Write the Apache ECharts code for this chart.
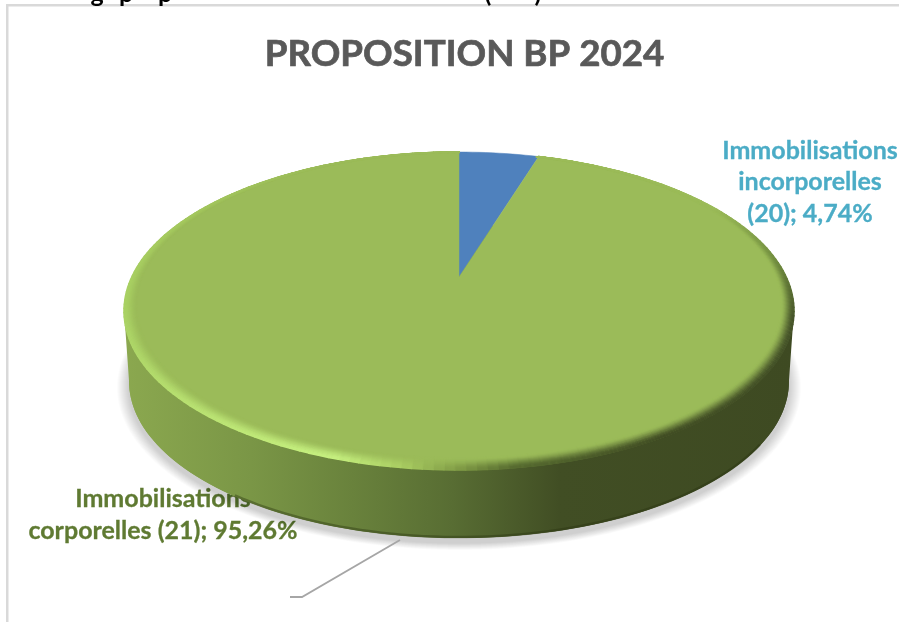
<!DOCTYPE html>
<html>
<head>
<meta charset="utf-8">
<style>
  html, body { margin: 0; padding: 0; background: #fff; }
  #chart { width: 899px; height: 622px; }
</style>
<script src="https://cdn.jsdelivr.net/npm/echarts@6/dist/echarts.min.js"></script>
</head>
<body>
<div id="chart"></div>
<script>
// Budget split shown on the disc
const chartTitle = 'PROPOSITION BP 2024';
const sliceNames = ['Immobilisations\nincorporelles\n(20)', 'Immobilisations\ncorporelles (21)'];
const sliceShares = [4.74, 95.26];
const sliceColors = ['#4F81BD', '#9BBB59'];
const labelColors = ['#4BACC6', '#5F7A32'];
const labelCentres = [[810, 182], [163, 515]];

// Glyphs of the heading line running off the top of the page
const headingGlyphs = ['g', 'p', 'p', '(', ')'];
const headingGlyphX = [97, 126, 165, 488, 538];

// Perspective disc: angle 0 points away from the viewer, angles grow clockwise
const disc = { cx: 459, cy: 277, a: 327.2, b: 151.7, p: 0.2138 };
const plinth = { drop: 71, scale: 0.985 };
const sideAngle = Math.acos(-disc.p) * 180 / Math.PI;

function project(deg, r, drop, scale) {
  const t = deg * Math.PI / 180;
  const w = 1 + disc.p * Math.cos(t) * r;
  const s = scale === undefined ? 1 : scale;
  return [
    disc.cx + s * disc.a * r * Math.sin(t) / w,
    disc.cy + (drop || 0) - s * disc.b * r * Math.cos(t) / w
  ];
}

function arc(from, to, r, drop, scale) {
  const pts = [];
  const n = Math.max(2, Math.ceil(Math.abs(to - from) / 1.5));
  for (let i = 0; i <= n; i++) {
    pts.push(project(from + (to - from) * i / n, r, drop, scale));
  }
  return pts;
}

// Cumulative angles of each slice
let running = 0;
const sliceAngles = sliceShares.map(function (v) {
  const start = running * 3.6;
  running += v;
  return [start, running * 3.6];
});

// Edge colour of the rounded rim, going round the disc
const rimStops = [
  [0, '#9BBB59'], [60, '#9BBB59'], [85, '#6F8A3E'], [105, '#46542A'], [150, '#414D24'],
  [172, '#55692F'], [180, '#7F9A45'], [188, '#AACE62'], [198, '#C6F080'], [212, '#BFE878'],
  [245, '#AED668'], [262, '#A9D163'], [290, '#A5C95F'], [330, '#9BBB59'], [360, '#9BBB59']
];

function rgb(hex) {
  return [1, 3, 5].map(function (i) { return parseInt(hex.substr(i, 2), 16); });
}
function mix(c1, c2, t) {
  return 'rgb(' + c1.map(function (v, i) { return Math.round(v + (c2[i] - v) * t); }).join(',') + ')';
}
function rimColour(deg) {
  for (let i = 1; i < rimStops.length; i++) {
    if (deg <= rimStops[i][0]) {
      const t = (deg - rimStops[i - 1][0]) / (rimStops[i][0] - rimStops[i - 1][0]);
      const a = rgb(rimStops[i - 1][1]), b = rgb(rimStops[i][1]);
      return a.map(function (v, k) { return v + (b[k] - v) * t; });
    }
  }
  return rgb(rimStops[0][1]);
}

function renderPlinth() {
  const base = arc(0, 360, 1, plinth.drop, plinth.scale);
  const band = arc(sideAngle, 360 - sideAngle, 1)
    .concat(arc(360 - sideAngle, sideAngle, 1, plinth.drop, plinth.scale));
  const sideFill = {
    type: 'linear', x: 124, y: 0, x2: 794, y2: 0, global: true,
    colorStops: [
      { offset: 0, color: '#8BA84F' }, { offset: 0.19, color: '#7A9646' },
      { offset: 0.34, color: '#69823C' }, { offset: 0.49, color: '#586D33' },
      { offset: 0.65, color: '#414E24' }, { offset: 1, color: '#3E4A22' }
    ]
  };
  const children = [];
  // Soft cast shadow built from widening translucent discs
  for (let i = 12; i >= 1; i--) {
    children.push({
      type: 'polygon',
      shape: { points: arc(0, 360, 1, plinth.drop + 5, plinth.scale + i * 0.003) },
      style: { fill: 'rgba(0,0,0,0.014)' }
    });
  }
  children.push(
    { type: 'polygon', shape: { points: base }, style: { fill: sideFill } },
    { type: 'polygon', shape: { points: band }, style: { fill: sideFill } },
    { type: 'polyline', shape: { points: arc(125, 215, 1, plinth.drop - 1, plinth.scale) },
      style: { fill: 'none', stroke: 'rgba(40,50,15,0.4)', lineWidth: 2.5 } }
  );
  return { type: 'group', children: children };
}

function renderSlice(params, api) {
  const from = api.value(0), to = api.value(1);
  const pts = [project(0, 0)].concat(arc(from, to, 1));
  return { type: 'polygon', shape: { points: pts },
           style: { fill: sliceColors[params.dataIndex], stroke: sliceColors[params.dataIndex], lineWidth: 0.5 } };
}

// Rounded rim: concentric strokes easing from the edge colour to the face colour
function renderBevel() {
  const face = rgb(sliceColors[1]);
  const rings = 12, step = 1.5, children = [];
  const from = sliceAngles[0][1], to = 360;
  for (let k = rings; k >= 0; k--) {
    const u = k / rings;
    const ease = u * u * (3 - 2 * u);
    const r = 1 - 0.036 * u;
    const lift = -3.2 * u;
    for (let d = from; d < to; d += step) {
      const end = Math.min(to, d + step);
      const col = mix(rimColour((d + end) / 2), face, ease);
      children.push({
        type: 'polyline', silent: true,
        shape: { points: [project(d, r, lift), project(end, r, lift)] },
        style: { fill: 'none', stroke: col, lineWidth: 1.6, lineCap: 'round' }
      });
    }
  }
  return { type: 'group', children: children };
}

function renderLabel(params, api) {
  const i = params.dataIndex;
  const text = sliceNames[i] + '; ' + api.value(0).toFixed(2).replace('.', ',') + '%';
  return {
    type: 'text',
    x: labelCentres[i][0], y: labelCentres[i][1],
    style: {
      text: text, fill: labelColors[i],
      stroke: labelColors[i], lineWidth: 0.3,
      font: 'bold 25px Lato, "Open Sans", sans-serif',
      lineHeight: 31.5, align: 'center', verticalAlign: 'middle'
    }
  };
}

const chart = echarts.init(document.getElementById('chart'), null, { renderer: 'canvas' });
const frameAndLeader = [
  // Frame of the chart area and the leader line of the large slice
  { type: 'rect', z: 0, shape: { x: 6, y: 4, width: 893, height: 2.5 }, style: { fill: '#D9D9D9' } },
  { type: 'rect', z: 0, shape: { x: 6, y: 4, width: 2.5, height: 618 }, style: { fill: '#D9D9D9' } },
  { type: 'polyline', z: 20, shape: { points: [[400, 540], [302, 597], [290, 597]] },
    style: { fill: 'none', stroke: '#A6A6A6', lineWidth: 1.8 } }
];
const headingMarks = headingGlyphs.map(function (glyph, i) {
  return {
    type: 'text', z: 0, x: headingGlyphX[i], y: -19,
    style: { text: glyph, fill: '#000000', font: 'bold 25px Lato, sans-serif', align: 'center', verticalAlign: 'top' }
  };
});

chart.setOption({
  animation: false,
  backgroundColor: '#ffffff',
  title: {
    text: chartTitle, left: 459.5, top: 31, textAlign: 'center',
    textStyle: {
      color: '#595959', fontSize: 36.7, fontWeight: 'bold', fontFamily: 'Lato, "Open Sans", sans-serif',
      textBorderColor: '#595959', textBorderWidth: 0.7
    }
  },
  graphic: frameAndLeader.concat(headingMarks),
  series: [
    { type: 'custom', name: 'labels', coordinateSystem: 'none', z: 1,
      data: sliceShares.map(function (v) { return [v]; }), renderItem: renderLabel },
    { type: 'custom', name: 'plinth', coordinateSystem: 'none', z: 2, silent: true,
      data: [[0]], renderItem: renderPlinth },
    { type: 'custom', name: 'slices', coordinateSystem: 'none', z: 3,
      data: sliceAngles, renderItem: renderSlice },
    { type: 'custom', name: 'rim', coordinateSystem: 'none', z: 4, silent: true,
      data: [[0]], renderItem: renderBevel }
  ]
});
</script>
</body>
</html>
